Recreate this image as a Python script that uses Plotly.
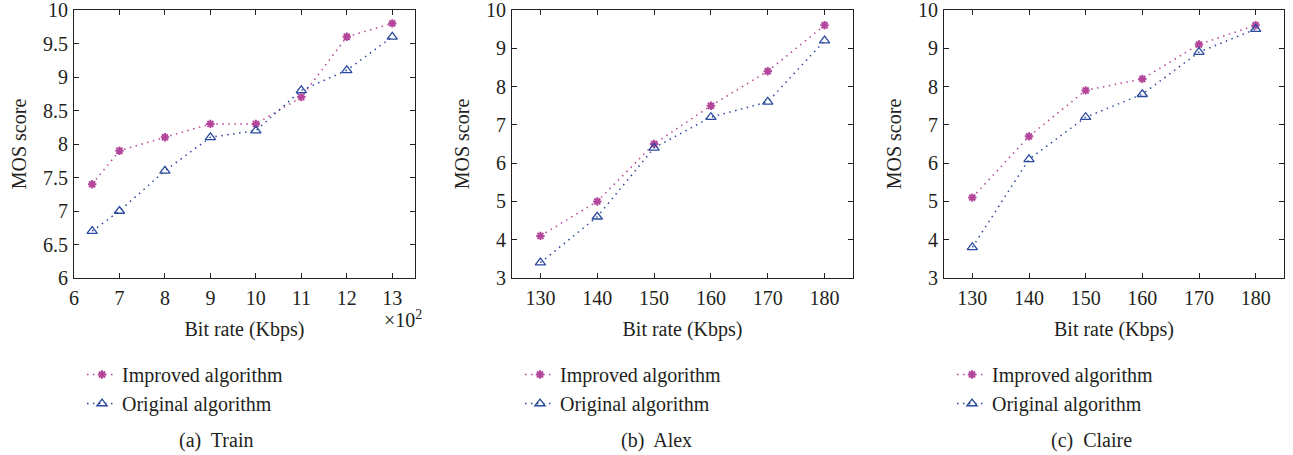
import plotly.graph_objects as go

train_x = [6.4, 7, 8, 9, 10, 11, 12, 13]
train_improved = [7.4, 7.9, 8.1, 8.3, 8.3, 8.7, 9.6, 9.8]
train_original = [6.7, 7.0, 7.6, 8.1, 8.2, 8.8, 9.1, 9.6]

rate_x = [130, 140, 150, 160, 170, 180]
alex_improved = [4.1, 5.0, 6.5, 7.5, 8.4, 9.6]
alex_original = [3.4, 4.6, 6.4, 7.2, 7.6, 9.2]
claire_improved = [5.1, 6.7, 7.9, 8.2, 9.1, 9.6]
claire_original = [3.8, 6.1, 7.2, 7.8, 8.9, 9.5]

captions = ["(a)  Train", "(b)  Alex", "(c)  Claire"]

W, H = 1293, 455
OFF = 0  # body margin removed by the post script


def fx(px):
    return (px - OFF) / W


def fy(py):
    return 1 - (py - OFF) / H


FONT = "Liberation Serif"
TXT = "#231f20"
MAG = "#b3469b"
BLU = "#2b4a9e"
DOT = "1.5px,4.5px"

panels = [
    (train_x, train_improved, train_original, [6, 13.5], [6, 10], 0.5, 1, (74, 415), 216),
    (rate_x, alex_improved, alex_original, [125, 185], [3, 10], 1, 10, (512, 853), 656),
    (rate_x, claire_improved, claire_original, [125, 185], [3, 10], 1, 10, (944, 1284), 1091),
]

fig = go.Figure()
legend_names = ["legend", "legend2", "legend3"]
for i, (xs, imp, orig, xr, yr, ydt, xdt, (x0, x1), capx) in enumerate(panels):
    ax = "" if i == 0 else str(i + 1)
    fig.add_trace(go.Scatter(
        x=xs, y=imp, mode="lines+markers", name="Improved algorithm",
        line=dict(color=MAG, dash=DOT, width=1.5),
        marker=dict(symbol="asterisk-open", size=7, color=MAG, line=dict(color=MAG, width=2)),
        xaxis="x" + ax, yaxis="y" + ax, legend=legend_names[i]))
    fig.add_trace(go.Scatter(
        x=xs, y=orig, mode="lines+markers", name="Original algorithm",
        line=dict(color=BLU, dash=DOT, width=1.5),
        marker=dict(symbol="triangle-up-open", size=9, color=BLU, line=dict(color=BLU, width=1.3)),
        xaxis="x" + ax, yaxis="y" + ax, legend=legend_names[i]))
    common = dict(showline=True, linecolor="#231f20", linewidth=1, mirror="ticks",
                  ticks="inside", ticklen=5, tickcolor="#231f20", showgrid=False,
                  zeroline=False, automargin=False, ticklabeloverflow="allow",
                  tickfont=dict(family=FONT, size=20, color=TXT))
    fig.update_layout(**{
        "xaxis" + ax: dict(domain=[fx(x0), fx(x1)], range=xr, dtick=xdt,
                           anchor="y" + ax, ticklabelstandoff=2,
                           title=dict(text="Bit rate (Kbps)", font=dict(family=FONT, size=20, color=TXT), standoff=13),
                           **common),
        "yaxis" + ax: dict(domain=[fy(278), fy(10)], range=yr, dtick=ydt,
                           anchor="x" + ax, ticklabelstandoff=1,
                           title=dict(text="MOS score", font=dict(family=FONT, size=20, color=TXT), standoff=11),
                           **common),
    })
    fig.update_layout(**{legend_names[i]: dict(
        x=fx(x0 + 8), y=fy(355), xanchor="left", yanchor="top",
        font=dict(family=FONT, size=20, color=TXT), bgcolor="rgba(0,0,0,0)",
        itemwidth=30, tracegroupgap=0)})
    fig.add_annotation(text=captions[i], x=fx(capx), y=fy(440),
                       xref="paper", yref="paper", showarrow=False,
                       xanchor="center", yanchor="middle",
                       font=dict(family=FONT, size=20, color=TXT))

fig.add_annotation(text="×10<sup>2</sup>", x=fx(424), y=fy(319), xref="paper", yref="paper",
                   xanchor="right", yanchor="middle", showarrow=False,
                   font=dict(family=FONT, size=20, color=TXT))

fig.update_layout(width=W, height=H, margin=dict(l=0, r=0, t=0, b=0),
                  plot_bgcolor="white", paper_bgcolor="white", showlegend=True)
fig.write_html("out.html", config={"displayModeBar": False},
               post_script="document.body.style.margin='0';")
